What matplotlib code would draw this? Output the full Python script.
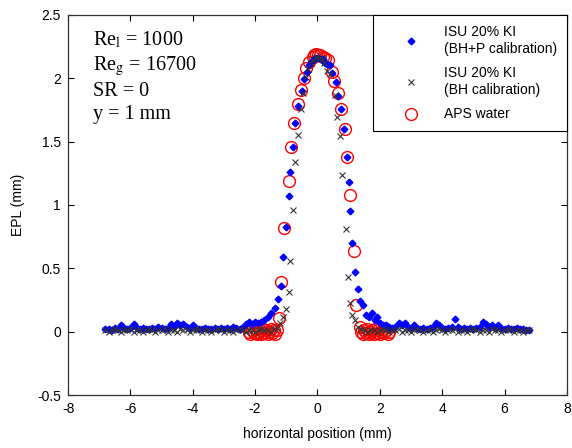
import matplotlib
matplotlib.use('Agg')
import matplotlib.pyplot as plt

plt.rcParams['font.family'] = 'Liberation Sans'
plt.rcParams['mathtext.fontset'] = 'stix'
plt.rcParams['axes.unicode_minus'] = False

# ISU 20% KI, BH+P calibration
bhp_x = [-6.8, -6.7, -6.6, -6.5, -6.4, -6.3, -6.2, -6.1, -6.0, -5.9, -5.8, -5.7, -5.6, -5.5, -5.4,
         -5.3, -5.2, -5.1, -5.0, -4.9, -4.8, -4.7, -4.6, -4.5, -4.4, -4.3, -4.2, -4.1, -4.0, -3.9,
         -3.8, -3.7, -3.6, -3.5, -3.4, -3.3, -3.2, -3.1, -3.0, -2.9, -2.8, -2.7, -2.6, -2.5, -2.4,
         -2.3, -2.2, -2.1, -2.0, -1.9, -1.8, -1.7, -1.6, -1.48, -1.35, -1.27, -1.16, -1.11, -1.0,
         -0.92, -0.87, -0.80, -0.71, -0.61, -0.51, -0.42, -0.35, -0.28, -0.2, -0.12, -0.05, 0.03,
         0.1, 0.18, 0.25, 0.32, 0.41, 0.48, 0.58, 0.65, 0.74, 0.84, 0.95, 1.0, 1.05, 1.11, 1.22,
         1.30, 1.38, 1.45, 1.57, 1.65, 1.76, 1.83, 1.9, 2.0, 2.1, 2.2,
         2.3, 2.4, 2.5, 2.6, 2.7, 2.8, 2.9, 3.0, 3.1, 3.2, 3.3, 3.4, 3.5, 3.6, 3.7, 3.8, 3.9, 4.0,
         4.1, 4.2, 4.3, 4.4, 4.5, 4.6, 4.7, 4.8, 4.9, 5.0, 5.1, 5.2, 5.3, 5.4, 5.5, 5.6, 5.7, 5.8,
         5.9, 6.0, 6.1, 6.2, 6.3, 6.4, 6.5, 6.6, 6.7, 6.8]
bhp_y = [0.02, 0.02, 0.01, 0.03, 0.02, 0.05, 0.03, 0.02, 0.03, 0.06, 0.03, 0.02, 0.03, 0.02, 0.02,
         0.03, 0.02, 0.04, 0.03, 0.02, 0.03, 0.06, 0.04, 0.07, 0.05, 0.06, 0.04, 0.03, 0.05, 0.03,
         0.02, 0.02, 0.03, 0.02, 0.02, 0.03, 0.02, 0.03, 0.02, 0.03, 0.02, 0.04, 0.03, 0.02, 0.04,
         0.06, 0.08, 0.06, 0.08, 0.07, 0.08, 0.09, 0.12, 0.15, 0.19, 0.26, 0.36, 0.59, 0.83,
         1.07, 1.26, 1.46, 1.65, 1.78, 1.90, 1.99, 2.05, 2.10, 2.13, 2.15, 2.16, 2.16,
         2.15, 2.15, 2.12, 2.11, 2.10, 2.04, 1.97, 1.86, 1.76, 1.60, 1.38, 1.18, 0.95, 0.70, 0.47,
         0.34, 0.24, 0.21, 0.13, 0.12, 0.15, 0.09, 0.12, 0.07, 0.05, 0.05,
         0.04, 0.03, 0.04, 0.07, 0.05, 0.07, 0.04, 0.03, 0.05, 0.03, 0.02, 0.03, 0.02, 0.03, 0.04,
         0.07, 0.05, 0.03, 0.02, 0.03, 0.04, 0.10, 0.04, 0.02, 0.03, 0.02, 0.03, 0.02, 0.03, 0.04,
         0.08, 0.06, 0.04, 0.05, 0.03, 0.05, 0.03, 0.02, 0.03, 0.02, 0.02, 0.03, 0.02, 0.02, 0.01,
         0.01]

# ISU 20% KI, BH calibration
bh_x = [-6.8, -6.7, -6.6, -6.5, -6.4, -6.3, -6.2, -6.1, -6.0, -5.9, -5.8, -5.7, -5.6, -5.5, -5.4,
        -5.3, -5.2, -5.1, -5.0, -4.9, -4.8, -4.7, -4.6, -4.5, -4.4, -4.3, -4.2, -4.1, -4.0, -3.9,
        -3.8, -3.7, -3.6, -3.5, -3.4, -3.3, -3.2, -3.1, -3.0, -2.9, -2.8, -2.7, -2.6, -2.5, -2.4,
        -2.3, -2.2, -2.1, -2.0, -1.9, -1.8, -1.7, -1.6, -1.5, -1.4, -1.3, -1.2,
        -1.09, -1.0, -0.92, -0.88, -0.79, -0.71, -0.61, -0.54, -0.45, -0.38, -0.3, -0.22, -0.15,
        -0.07, 0.0, 0.08, 0.15, 0.22, 0.3, 0.4, 0.55, 0.62, 0.72, 0.79, 0.92, 0.99, 1.05, 1.11,
        1.19, 1.3, 1.4, 1.5, 1.6, 1.7, 1.8, 1.9, 2.0, 2.1, 2.2,
        2.3, 2.4, 2.5, 2.6, 2.7, 2.8, 2.9, 3.0, 3.1, 3.2, 3.3, 3.4, 3.5, 3.6, 3.7, 3.8, 3.9, 4.0,
        4.1, 4.2, 4.3, 4.4, 4.5, 4.6, 4.7, 4.8, 4.9, 5.0, 5.1, 5.2, 5.3, 5.4, 5.5, 5.6, 5.7, 5.8,
        5.9, 6.0, 6.1, 6.2, 6.3, 6.4, 6.5, 6.6, 6.7, 6.8]
bh_y = [0.01, 0.0, 0.01, 0.02, 0.01, 0.0, 0.01, 0.01, 0.02, 0.0, 0.01, 0.01, 0.0, 0.01, 0.02,
        0.01, 0.0, 0.01, 0.01, 0.02, 0.0, 0.01, 0.01, 0.0, 0.02, 0.01, 0.01, 0.0, 0.01, 0.01,
        0.02, 0.0, 0.01, 0.01, 0.0, 0.01, 0.02, 0.01, 0.0, 0.01, 0.01, 0.0, 0.01, 0.02, 0.01,
        0.0, 0.01, 0.01, 0.0, 0.01, 0.02, 0.01, 0.01, 0.0, 0.02, 0.03, 0.07,
        0.12, 0.18, 0.31, 0.56, 0.96, 1.34, 1.55, 1.76, 1.88, 2.01, 2.07, 2.12, 2.14,
        2.16, 2.17, 2.16, 2.15, 2.12, 2.06, 2.03, 1.87, 1.69, 1.54, 1.24, 0.81, 0.43, 0.23, 0.13,
        0.09, 0.04, 0.02, 0.01, 0.0, 0.01, 0.01, 0.0, 0.01, 0.02, 0.01,
        0.0, 0.01, 0.01, 0.02, 0.0, 0.01, 0.01, 0.0, 0.01, 0.02, 0.01, 0.0, 0.01, 0.01, 0.0,
        0.01, 0.02, 0.01, 0.0, 0.01, 0.01, 0.02, 0.0, 0.01, 0.01, 0.0, 0.01, 0.02, 0.01, 0.0,
        0.01, 0.01, 0.0, 0.02, 0.01, 0.01, 0.0, 0.01, 0.01, 0.02, 0.0, 0.01, 0.01, 0.0, 0.01,
        0.01]

# APS water
aps_x = [-2.2, -2.15, -2.1, -2.05, -2.0, -1.95, -1.9, -1.85, -1.8, -1.75, -1.7, -1.65, -1.6,
         -1.55, -1.5, -1.45, -1.4, -1.35, -1.3, -1.24, -1.16, -1.06, -0.92, -0.84, -0.74, -0.61,
         -0.52, -0.44, -0.36, -0.26, -0.15, -0.1, -0.04, 0.02, 0.08, 0.17, 0.25, 0.33, 0.47, 0.54,
         0.67, 0.76, 0.87, 0.95, 1.05, 1.17, 1.24, 1.35, 1.4, 1.45, 1.5, 1.55, 1.6, 1.65, 1.7,
         1.75, 1.8, 1.85, 1.9, 1.95, 2.0, 2.05, 2.1, 2.15, 2.2, 2.25, 2.3]
aps_y = [0.0, -0.02, 0.01, -0.01, 0.02, -0.02, 0.0, 0.01, -0.02, 0.02, -0.01, 0.01, -0.02,
         0.0, 0.02, -0.01, 0.01, -0.02, 0.01, 0.11, 0.39, 0.82, 1.19, 1.46, 1.65, 1.80,
         1.91, 2.00, 2.08, 2.13, 2.17, 2.18, 2.19, 2.18, 2.18, 2.17, 2.16, 2.14, 2.05, 1.98,
         1.88, 1.76, 1.60, 1.38, 1.08, 0.64, 0.21, 0.04, 0.0, -0.02, 0.01, -0.01, 0.02, -0.02,
         0.0, 0.01, -0.02, 0.02, -0.01, 0.01, -0.02, 0.0, 0.02, -0.01, 0.01, -0.02, 0.0]

x_ticks = [-8, -6, -4, -2, 0, 2, 4, 6, 8]
y_ticks = [-0.5, 0, 0.5, 1, 1.5, 2, 2.5]
y_tick_labels = ['-0.5', '0', '0.5', '1', '1.5', '2', '2.5']

fig = plt.figure(figsize=(5.72, 4.48), dpi=100)
ax = fig.add_axes([0.119, 0.118, 0.872, 0.849])

ax.plot(aps_x, aps_y, 'o', ms=8.5, mfc='none', mec='red', mew=1.0,
        label='APS water', zorder=1)
ax.plot(bhp_x, bhp_y, 'D', ms=3.4, color='blue', mec='blue',
        label='ISU 20% KI\n(BH+P calibration)', zorder=2)
ax.plot(bh_x, bh_y, 'x', ms=5, color='#333333', mew=0.8,
        label='ISU 20% KI\n(BH calibration)', zorder=3)

ax.set_xlim(-8, 8)
ax.set_ylim(-0.5, 2.5)
ax.set_xticks(x_ticks)
ax.set_yticks(y_ticks)
ax.set_yticklabels(y_tick_labels)
ax.tick_params(direction='in', top=True, right=True, length=4, width=0.8,
               labelsize=10, pad=5)
for s in ax.spines.values():
    s.set_linewidth(0.9)
    s.set_color('#333333')

ax.set_xlabel('horizontal position (mm)', fontsize=10, labelpad=8)
ax.set_ylabel('EPL (mm)', fontsize=10, labelpad=9)

handles, labels = ax.get_legend_handles_labels()
order = [1, 2, 0]
leg = ax.legend([handles[i] for i in order], [labels[i] for i in order],
                loc='upper right', borderaxespad=0, prop={'size': 10}, fancybox=False,
                edgecolor='black', framealpha=1, labelspacing=0.72,
                handletextpad=0.35, borderpad=0.72, handlelength=4.0)
leg.get_frame().set_linewidth(0.8)
for t in leg.get_texts():
    t.set_linespacing(1.3)

txt = ('Re$_{\\mathrm{l}}$ = 1000\nRe$_{\\mathrm{g}}$ = 16700\nSR = 0\ny = 1 mm')
ax.text(0.05, 0.962, txt, transform=ax.transAxes, va='top', ha='left',
        fontsize=14.5, family='Liberation Serif', linespacing=1.28)

fig.savefig('out.png', dpi=100)
